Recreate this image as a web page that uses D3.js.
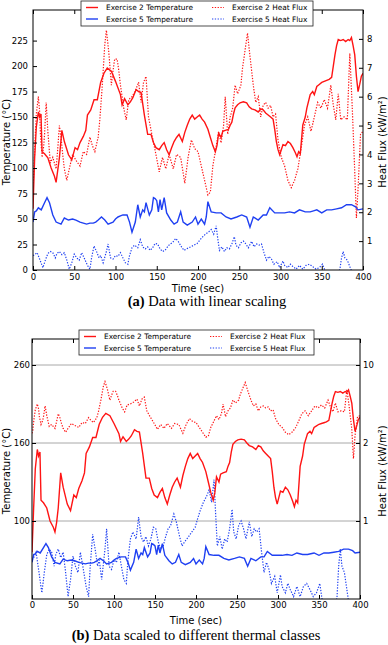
<!DOCTYPE html>
<html>
<head>
<meta charset="utf-8">
<script src="https://cdn.jsdelivr.net/npm/d3@7"></script>
<style>
body { margin: 0; background: #fff; }
text { font-family: "DejaVu Sans", sans-serif; }
.caption { font-family: "Liberation Serif", "Times New Roman", serif; }
</style>
</head>
<body>
<div id="chart"></div>
<script>
// [time (sec), value]
var ex2Temp = [[0,60],[2,110],[4,140],[6.5,155],[8,150],[9.7,153],[11,116],[14,114],[18,110],[22,100],[26,92],[28,86],[30,98],[32,110],[35,137],[38,126],[43,113],[47,108],[51,120],[54,118],[57,125],[61,131],[64,137],[66,152],[70,157],[74,167],[78,167],[82,184],[86,193],[90,198],[95,195],[100,185],[106,172],[108,162],[111,168],[115,162],[118,165],[121,169],[125,177],[128,175],[131,174],[135,152],[139,133],[143,133],[146,125],[149,120],[153,118],[156,122],[159,125],[162,118],[165,113],[168,120],[171,126],[174,130],[177,133],[181,126],[184,135],[187,142],[190,148],[193,152],[196,148],[199,150],[202,152],[205,148],[208,145],[212,138],[215,130],[218,122],[221,116],[223,122],[225,134],[228,130],[230,136],[233,137],[237,138],[239,142],[241,145],[243,153],[245,159],[248,162],[251,164],[255,165],[259,164],[262,160],[265,158],[269,157],[273,155],[276,158],[279,157],[282,154],[285,152],[288,150],[291,148],[293,138],[295,126],[297,118],[299,113],[301,118],[303,123],[306,122],[309,126],[312,124],[315,120],[318,115],[320,111],[322,116],[324,114],[327,142],[330,150],[332,159],[336,172],[339,175],[341,172],[344,180],[347,182],[350,184],[353,185],[356,186],[359,187],[362,189],[364,200],[366,211],[368,220],[370,226],[373,225],[376,226],[379,224],[382,226],[384,225],[386,228],[388,220],[390,211],[392,190],[394,175],[396,182],[398,190],[400,193]];

var ex2Flux = [[0,3.0],[1,3.3],[2.5,4.5],[4,5.4],[6.5,6.0],[8,5.5],[9,4.7],[11,3.9],[13,4.3],[14,4.7],[16,5.8],[18,4.8],[21,3.7],[24,3.9],[28,3.5],[30,4.2],[32,5.0],[34,4.6],[36,4.0],[38,3.5],[41,3.1],[44,3.5],[48,4.0],[52,3.8],[57,3.6],[61,4.1],[65,4.0],[69,4.6],[72,4.3],[75,4.1],[79,4.6],[81,5.2],[84,6.4],[87,7.8],[89,8.3],[92,7.5],[95,6.4],[97,6.9],[99,7.3],[102,7.3],[104,6.9],[106,6.4],[110,5.6],[113,5.2],[116,5.9],[120,6.0],[124,6.2],[128,6.5],[131,5.8],[134,6.5],[137,6.7],[140,5.3],[144,4.7],[149,4.0],[153,3.4],[157,3.9],[161,3.5],[165,4.0],[170,3.5],[174,4.0],[179,3.9],[184,3.0],[188,3.9],[192,4.5],[196,4.2],[200,4.1],[204,3.6],[208,3.1],[212,2.6],[215,2.7],[218,3.6],[221,4.1],[225,4.8],[228,4.4],[231,5.0],[233,6.0],[236,4.7],[239,5.3],[242,5.6],[245,6.4],[248,6.1],[252,6.4],[254,7.0],[258,7.8],[260,8.2],[263,7.4],[267,6.4],[270,5.8],[273,6.0],[276,5.3],[279,5.7],[282,5.8],[285,5.6],[288,5.7],[291,5.3],[294,5.4],[297,4.5],[301,3.9],[305,3.6],[309,3.1],[313,2.85],[317,3.1],[321,3.5],[325,4.2],[329,5.0],[333,5.3],[337,4.8],[341,5.3],[345,5.8],[349,5.6],[353,5.9],[357,5.6],[361,6.4],[364,5.7],[367,5.2],[370,6.1],[373,5.2],[377,5.3],[381,5.2],[384,7.5],[387,5.6],[390,3.4],[392,1.8],[394,2.8],[397,4.7],[400,4.8]];

var ex5Temp = [[0,47],[2,57],[4,58],[6.5,61],[10,59],[14,66],[17,71],[20,66],[24,54],[28,47],[34,45],[38,51],[43,49],[48,50],[52,49],[57,47],[61,46],[65,45],[69,46],[73,46],[76,47],[79,49],[83,52],[87,49],[91,45],[97,47],[100,50],[103,52],[106,53],[109,54],[114,54],[117,47],[120,37],[124,47],[127,64],[130,52],[133,59],[135,57],[137,66],[139,60],[141,54],[144,59],[146,71],[148,70],[150,68],[152,57],[154,69],[156,59],[159,71],[162,56],[167,49],[171,45],[175,47],[179,57],[182,47],[187,44],[193,47],[197,52],[200,45],[204,50],[208,45],[210,52],[212,67],[216,57],[222,56],[228,56],[234,52],[240,50],[247,52],[253,54],[259,52],[263,42],[267,52],[273,49],[279,54],[283,54],[287,61],[293,56],[299,56],[305,56],[311,57],[317,56],[323,59],[330,57],[336,57],[340,58],[344,59],[350,56],[356,59],[362,59],[368,60],[374,61],[380,64],[386,64],[391,62],[394,59],[400,60]];

var ex5Flux = [[0,0.5],[2,0.53],[5,0.6],[8,0.38],[12,0.08],[15,0.34],[18,0.57],[21,0.64],[24,0.6],[27,0.42],[29,0.57],[32,0.64],[35,0.53],[38,0.6],[41,0.34],[44,0.03],[47,0.25],[50,0.55],[53,0.42],[56,0.34],[59,0.6],[62,0.42],[66,0.16],[69,0.03],[71,0.42],[74,0.83],[77,0.64],[80,0.42],[82,0.5],[85,0.25],[89,0.64],[91,0.9],[94,0.42],[97,0.38],[100,0.5],[103,0.47],[106,0.6],[109,0.42],[112,0.25],[115,0.2],[117,0.5],[120,0.77],[123,0.86],[127,0.77],[130,1.05],[133,0.8],[136,0.73],[139,0.8],[142,0.68],[145,0.77],[148,0.92],[151,0.9],[154,0.73],[157,0.64],[160,0.68],[163,0.8],[166,0.9],[169,0.94],[173,1.09],[176,0.99],[180,0.8],[183,0.68],[186,0.73],[191,0.8],[195,0.86],[199,0.92],[202,1.03],[205,1.13],[209,1.24],[213,1.32],[216,1.4],[219,1.24],[222,1.53],[224,1.08],[226,0.68],[229,0.8],[232,0.64],[235,0.77],[238,0.73],[241,0.9],[244,1.15],[246,0.86],[249,0.77],[252,0.94],[255,1.0],[258,0.9],[261,0.77],[265,0.99],[268,0.8],[271,0.9],[274,0.86],[277,0.9],[280,0.6],[283,0.34],[286,0.47],[289,0.38],[292,0.2],[296,0.29],[299,0.08],[303,0.31],[305,0.16],[309,0.08],[312,0.2],[315,0.12],[319,0.03],[323,0.16],[327,0.03],[331,0.16],[335,0.2],[339,0.12],[343,0.03],[347,0.08],[351,0.2],[355,-0.1],[360,-0.2],[368,-0.2],[372,0.03],[374,0.42],[376,0.64],[378,0.42],[381,0.34],[384,0.12],[387,-0.1],[392,-0.2],[400,-0.2]];

var timeTicks = [0, 50, 100, 150, 200, 250, 300, 350, 400];
var tempTicksA = [0, 25, 50, 75, 100, 125, 150, 175, 200, 225];
var fluxTicksA = [1, 2, 3, 4, 5, 6, 7, 8];
// thermal classes for panel (b)
var tempClasses = [0, 100, 160, 260, 293.3];
var fluxClasses = [0, 1, 2, 10, 12.67];
var tempTicksB = [100, 160, 260];
var fluxTicksB = [1, 2, 10];

var legendLabels = ["Exercise 2 Temperature", "Exercise 5 Temperature", "Exercise 2 Heat Flux", "Exercise 5 Heat Flux"];

var red = "#ff1414", blue = "#1f40f2";

var svg = d3.select("#chart").append("svg")
    .attr("width", 388)
    .attr("height", 645);

function drawPanel(p) {
    var g = svg.append("g")
        .attr("transform", "translate(" + p.left + "," + p.top + ")");

    var x = d3.scaleLinear().domain([0, 400]).range([0, p.width]);
    var yL = p.yL.range(p.rangeFn(p.height));
    var yR = p.yR.range(p.rangeFn(p.height));

    g.append("clipPath").attr("id", p.id + "clip")
        .append("rect").attr("width", p.width).attr("height", p.height);

    if (p.grid) {
        g.selectAll(".grid").data(p.leftTicks).enter().append("line")
            .attr("x1", 0).attr("x2", p.width)
            .attr("y1", function (d) { return yL(d); })
            .attr("y2", function (d) { return yL(d); })
            .attr("stroke", "#a8a8a8").attr("stroke-width", 1);
    }

    var lineL = d3.line().x(function (d) { return x(d[0]); }).y(function (d) { return yL(d[1]); });
    var lineR = d3.line().x(function (d) { return x(d[0]); }).y(function (d) { return yR(d[1]); });

    var series = [
        { data: ex2Flux, line: lineR, color: red, dash: "1.3,1.5" },
        { data: ex5Flux, line: lineR, color: blue, dash: "1.3,1.5" },
        { data: ex2Temp, line: lineL, color: red, dash: null },
        { data: ex5Temp, line: lineL, color: blue, dash: null }
    ];

    var plot = g.append("g").attr("clip-path", "url(#" + p.id + "clip)");
    series.forEach(function (s) {
        plot.append("path")
            .attr("d", s.line(s.data))
            .attr("fill", "none")
            .attr("stroke", s.color)
            .attr("stroke-width", s.dash ? 1.2 : 1.4)
            .attr("stroke-dasharray", s.dash);
    });

    // axes, ticks pointing inward
    var xAxis = g.append("g").attr("transform", "translate(0," + p.height + ")")
        .call(d3.axisBottom(x).tickValues(timeTicks).tickSizeInner(-4).tickSizeOuter(0).tickPadding(p.xPad));
    var xTop = g.append("g")
        .call(d3.axisTop(x).tickValues(timeTicks).tickSizeInner(-4).tickSizeOuter(0).tickFormat(""));
    var leftAxis = g.append("g")
        .call(d3.axisLeft(yL).tickValues(p.leftTicks).tickSizeInner(-4).tickSizeOuter(0).tickPadding(p.lPad));
    var rightAxis = g.append("g").attr("transform", "translate(" + p.width + ",0)")
        .call(d3.axisRight(yR).tickValues(p.rightTicks).tickSizeInner(-4).tickSizeOuter(0).tickPadding(p.rPad));

    [xAxis, xTop, leftAxis, rightAxis].forEach(function (a) {
        a.select(".domain").remove();
        a.selectAll("text").attr("font-size", 8.5).attr("font-family", "DejaVu Sans").attr("fill", "#000");
        a.selectAll("line").attr("stroke", "#000");
    });

    g.append("rect")
        .attr("width", p.width).attr("height", p.height)
        .attr("fill", "none").attr("stroke", "#000").attr("stroke-width", 1);

    g.append("text")
        .attr("x", p.width / 2).attr("y", p.height + p.xLabelDy)
        .attr("text-anchor", "middle").attr("font-size", 10)
        .text("Time (sec)");

    svg.append("text")
        .attr("transform", "translate(10," + p.yLabelC + ") rotate(-90)")
        .attr("text-anchor", "middle").attr("font-size", 10)
        .text("Temperature (°C)");

    svg.append("text")
        .attr("transform", "translate(386," + p.yLabelC + ") rotate(-90)")
        .attr("text-anchor", "middle").attr("font-size", 10)
        .text("Heat Flux (kW/m²)");

    // legend
    var lg = svg.append("g").attr("transform", "translate(" + p.legend[0] + "," + p.legend[1] + ")");
    lg.append("rect")
        .attr("width", p.legend[2]).attr("height", 25)
        .attr("fill", "#fff").attr("stroke", "#222").attr("stroke-width", 0.8);
    legendLabels.forEach(function (label, i) {
        var col = Math.floor(i / 2), row = i % 2;
        var lx = 5 + col * p.legendCol, ly = 6.5 + row * 11.5;
        lg.append("line")
            .attr("x1", lx).attr("x2", lx + 12)
            .attr("y1", ly).attr("y2", ly)
            .attr("stroke", row === 0 ? red : blue)
            .attr("stroke-width", col === 0 ? 1.4 : 1.2)
            .attr("stroke-dasharray", col === 0 ? null : "1.3,1.5");
        lg.append("text")
            .attr("x", lx + 20).attr("y", ly + 2.6)
            .attr("font-size", 7.4)
            .text(label);
    });

    var cap = svg.append("text").attr("class", "caption")
        .attr("x", p.capX).attr("y", p.capY)
        .attr("text-anchor", "middle").attr("font-size", 14.5);
    cap.append("tspan").attr("font-weight", "bold").text(p.capTag);
    cap.append("tspan").text(" " + p.capText);
}

drawPanel({
    id: "a", left: 33, top: 10, width: 330, height: 260,
    yL: d3.scaleLinear().domain([0, 255]),
    yR: d3.scaleLinear().domain([0, 9]),
    rangeFn: function (h) { return [h, 0]; },
    leftTicks: tempTicksA, rightTicks: fluxTicksA, grid: false,
    xPad: 4, lPad: 5, rPad: 4, xLabelDy: 22, yLabelC: 142,
    legend: [81, 1, 232], legendCol: 126,
    capX: 207, capY: 306, capTag: "(a)", capText: "Data with linear scaling"
});

drawPanel({
    id: "b", left: 32, top: 339, width: 328, height: 260,
    yL: d3.scaleLinear().domain(tempClasses),
    yR: d3.scaleLinear().domain(fluxClasses),
    rangeFn: function (h) { return [h, h * 0.7, h * 0.4, h * 0.1, 0]; },
    leftTicks: tempTicksB, rightTicks: fluxTicksB, grid: true,
    xPad: 3, lPad: 2, rPad: 3, xLabelDy: 25, yLabelC: 471,
    legend: [79, 330, 235], legendCol: 126,
    capX: 196, capY: 640, capTag: "(b)", capText: "Data scaled to different thermal classes"
});
</script>
</body>
</html>
